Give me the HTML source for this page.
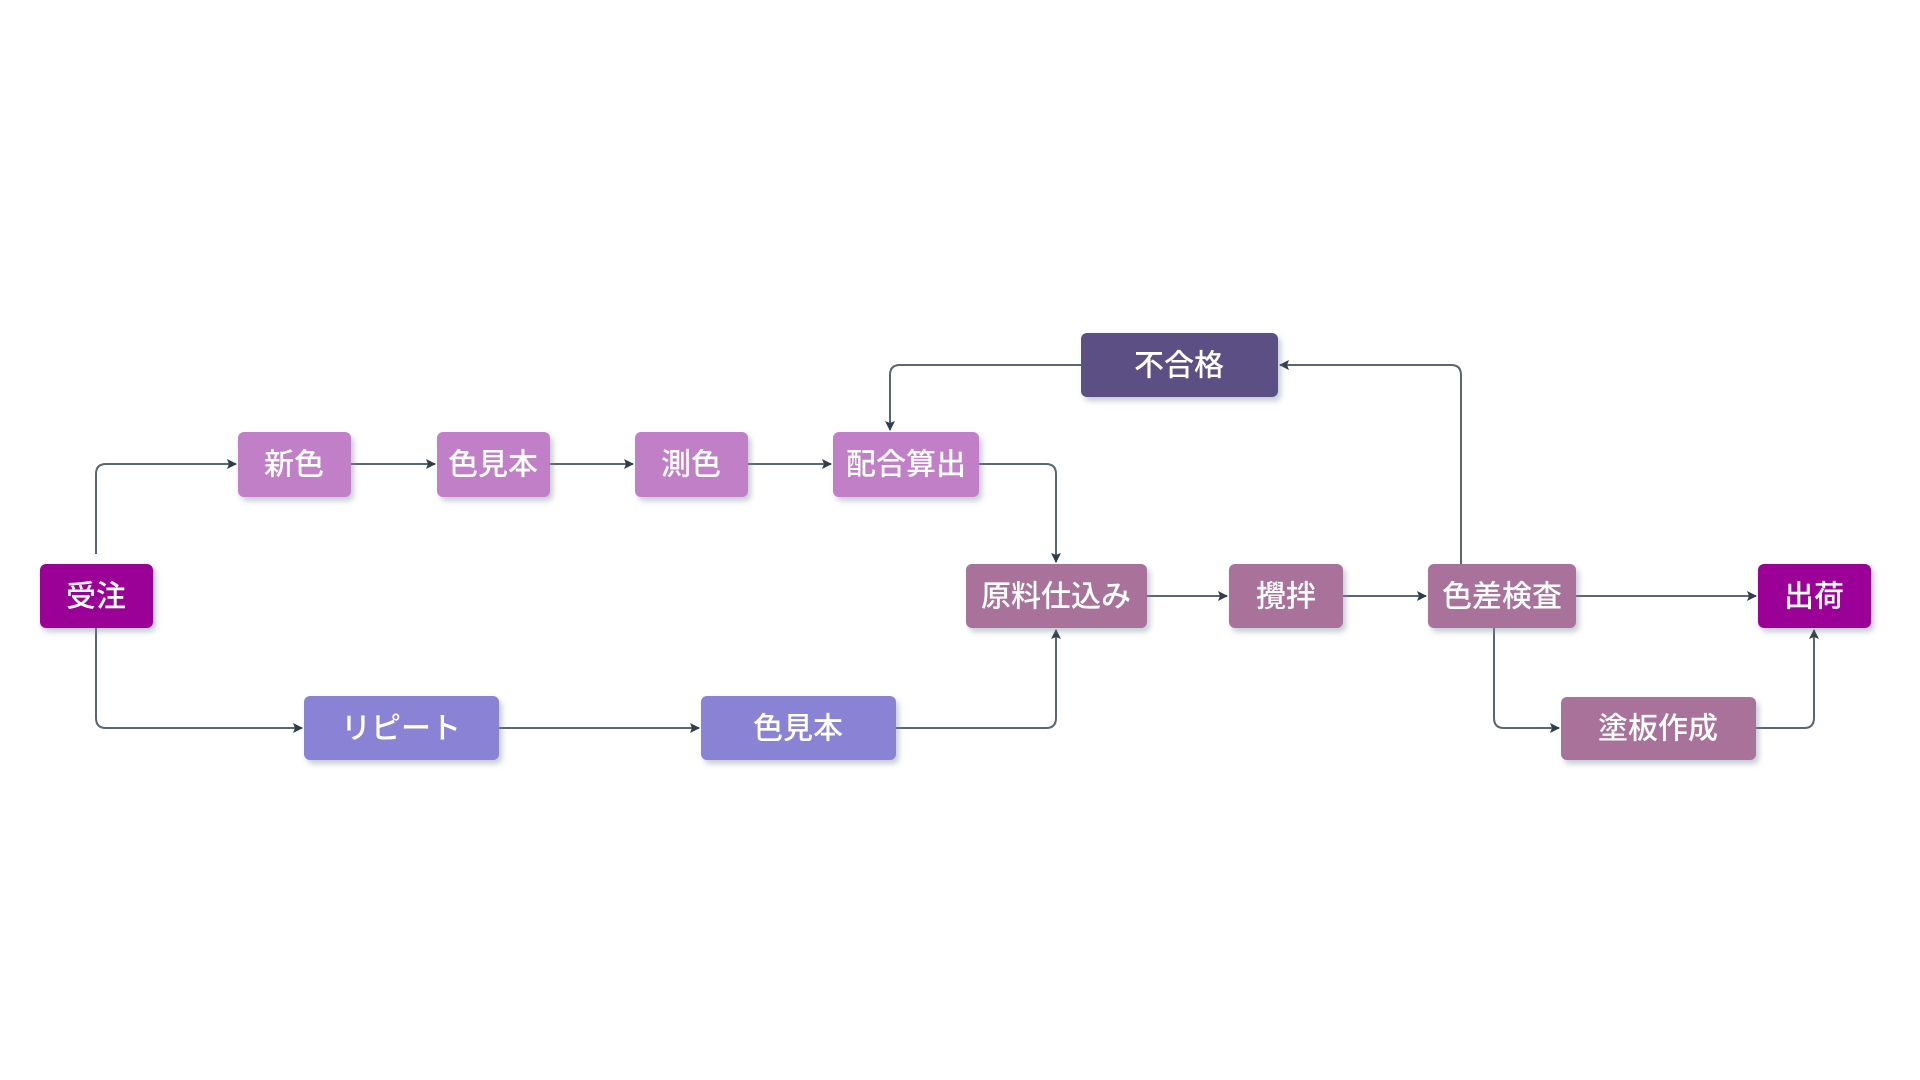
<!DOCTYPE html>
<html><head><meta charset="utf-8"><style>
html,body{margin:0;padding:0;background:#fff;}
svg{display:block}
text{font-family:"Liberation Sans","Noto Sans CJK JP",sans-serif;font-size:30px;font-weight:500;fill:#fff;text-anchor:middle;dominant-baseline:central}
</style></head><body>
<svg width="1920" height="1080" viewBox="0 0 1920 1080" xmlns="http://www.w3.org/2000/svg">
<defs>
<filter id="sh" x="-20%" y="-20%" width="140%" height="150%"><feDropShadow dx="3" dy="4" stdDeviation="3" flood-color="#8090a0" flood-opacity="0.45"/></filter>
<marker id="ar" markerWidth="10" markerHeight="10" refX="9" refY="5" orient="auto" markerUnits="userSpaceOnUse"><path d="M0,0 L10,5 L0,10 L2,5 Z" fill="#2f3e4a"/></marker>
</defs>
<g fill="none" stroke="#5a6670" stroke-width="2" marker-end="url(#ar)">
<path d="M96,554 V474 Q96,464 106,464 H236"/>
<path d="M351,464 H435"/>
<path d="M550,464 H633"/>
<path d="M748,464 H831"/>
<path d="M979,464 H1046 Q1056,464 1056,474 V562"/>
<path d="M96,628 V718 Q96,728 106,728 H302"/>
<path d="M499,728 H699"/>
<path d="M896,728 H1046 Q1056,728 1056,718 V630"/>
<path d="M1147,596 H1227"/>
<path d="M1343,596 H1426"/>
<path d="M1576,596 H1756"/>
<path d="M1461,564 V375 Q1461,365 1451,365 H1280"/>
<path d="M1081,365 H900 Q890,365 890,375 V430"/>
<path d="M1494,628 V718 Q1494,728 1504,728 H1559"/>
<path d="M1756,728 H1804 Q1814,728 1814,718 V630"/>
</g>
<g filter="url(#sh)">
<rect x="40" y="564" width="113" height="64" rx="6" fill="#9b0497"/>
<rect x="238" y="432" width="113" height="65" rx="6" fill="#c07fc7"/>
<rect x="437" y="432" width="113" height="65" rx="6" fill="#c07fc7"/>
<rect x="635" y="432" width="113" height="65" rx="6" fill="#c07fc7"/>
<rect x="833" y="432" width="146" height="65" rx="6" fill="#c07fc7"/>
<rect x="304" y="696" width="195" height="64" rx="6" fill="#8a82d4"/>
<rect x="701" y="696" width="195" height="64" rx="6" fill="#8a82d4"/>
<rect x="1081" y="333" width="197" height="64" rx="6" fill="#5b4f83"/>
<rect x="966" y="564" width="181" height="64" rx="6" fill="#a8729a"/>
<rect x="1229" y="564" width="114" height="64" rx="6" fill="#a8729a"/>
<rect x="1428" y="564" width="148" height="64" rx="6" fill="#a8729a"/>
<rect x="1758" y="564" width="113" height="64" rx="6" fill="#9b0497"/>
<rect x="1561" y="697" width="195" height="63" rx="6" fill="#a8729a"/>
</g>
<text x="96" y="597">受注</text>
<text x="294" y="465">新色</text>
<text x="493" y="465">色見本</text>
<text x="691" y="465">測色</text>
<text x="906" y="465">配合算出</text>
<text x="401" y="729">リピート</text>
<text x="798" y="729">色見本</text>
<text x="1179" y="366">不合格</text>
<text x="1056" y="597">原料仕込み</text>
<text x="1286" y="597">攪拌</text>
<text x="1502" y="597">色差検査</text>
<text x="1814" y="597">出荷</text>
<text x="1658" y="729">塗板作成</text>
</svg>
</body></html>
